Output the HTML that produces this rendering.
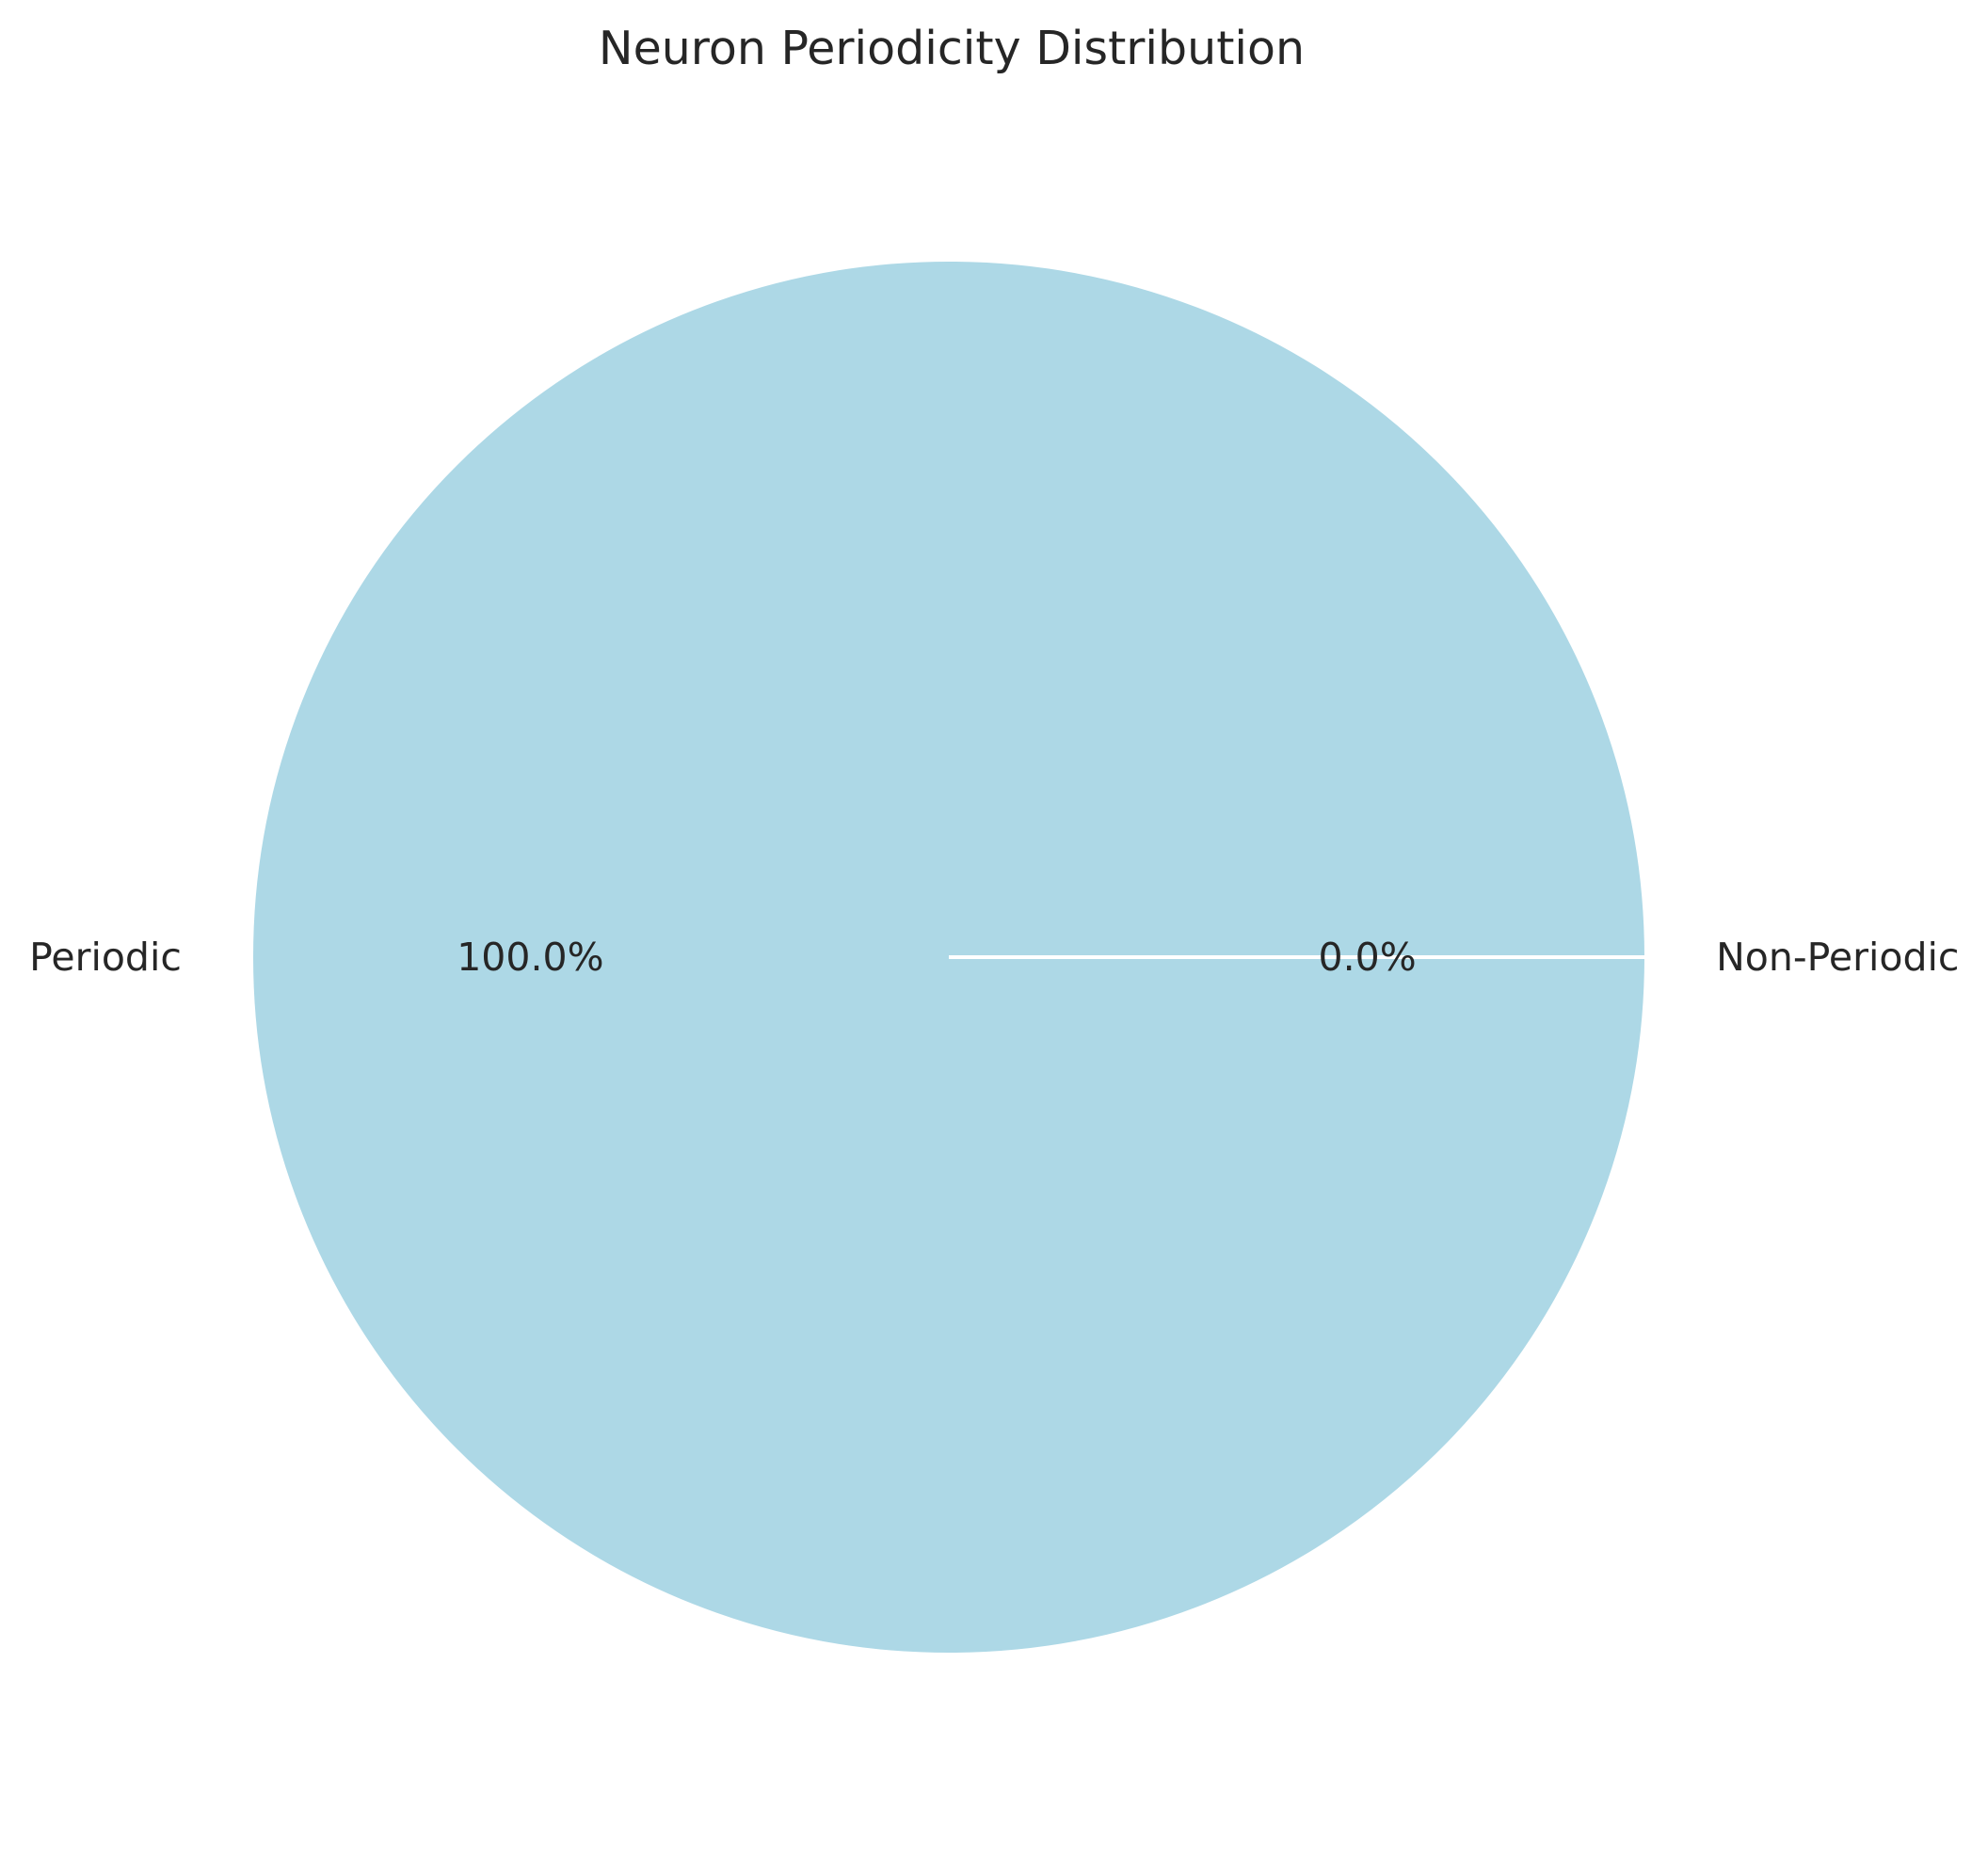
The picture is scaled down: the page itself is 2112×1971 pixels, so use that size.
<!DOCTYPE html>
<html><head><meta charset="utf-8"><style>html,body{margin:0;padding:0;background:#fff}svg{display:block}</style></head>
<body>
<svg id="chart" width="2112" height="1971" viewBox="0 0 2112 1971" font-family="DejaVu Sans, Liberation Sans, sans-serif">
<rect width="2112" height="1971" fill="#fff"/>
<text x="1011" y="68" font-size="49" text-anchor="middle" fill="#262626">Neuron Periodicity Distribution</text>
<g id="slices"></g>
<g id="labels"></g>
</svg>
<script>
const categories = ["Periodic", "Non-Periodic"];
const values = [100, 0];
const colors = ["#add8e6", "#f4a582"];
const cx = 1008, cy = 1017, r = 741;
const total = values.reduce((a, b) => a + b, 0);
const ns = "http://www.w3.org/2000/svg";
const gS = document.getElementById('slices'), gL = document.getElementById('labels');
function pt(a, rr) { return [cx + rr * Math.cos(a), cy - rr * Math.sin(a)]; }
let start = 0;
values.forEach((v, i) => {
  const frac = v / total, sweep = frac * 2 * Math.PI, end = start + sweep;
  let el;
  if (frac >= 0.9999) {
    el = document.createElementNS(ns, 'circle');
    el.setAttribute('cx', cx); el.setAttribute('cy', cy); el.setAttribute('r', r);
  } else {
    el = document.createElementNS(ns, 'path');
    const p0 = pt(start, r), p1 = pt(end, r);
    el.setAttribute('d', `M${cx},${cy} L${p0[0]},${p0[1]} A${r},${r} 0 ${sweep > Math.PI ? 1 : 0} 0 ${p1[0]},${p1[1]} Z`);
  }
  el.setAttribute('fill', colors[i]);
  el.setAttribute('stroke', '#fff'); el.setAttribute('stroke-width', '4');
  
  
  gS.appendChild(el);
  const mid = start + sweep / 2;
  const lp = pt(mid, r * 1.1);
  const t = document.createElementNS(ns, 'text');
  t.setAttribute('x', lp[0]); t.setAttribute('y', lp[1] + 14);
  t.setAttribute('font-size', '41'); t.setAttribute('fill', '#262626');
  t.setAttribute('text-anchor', Math.cos(mid) < -0.01 ? 'end' : 'start');
  t.textContent = categories[i];
  
  
  gL.appendChild(t);
  const pp = pt(mid, r * 0.6);
  const pc = document.createElementNS(ns, 'text');
  pc.setAttribute('x', pp[0]); pc.setAttribute('y', pp[1] + 14);
  pc.setAttribute('font-size', '41'); pc.setAttribute('fill', '#262626');
  pc.setAttribute('text-anchor', 'middle');
  pc.textContent = (frac * 100).toFixed(1) + '%';
  
  
  gL.appendChild(pc);
  start = end;
});
values.forEach((v, i) => {
  if (v === 0) {
    let a = 0; for (let k = 0; k < i; k++) a += values[k] / total * 2 * Math.PI;
    const p = pt(a, r);
    const ln = document.createElementNS(ns, 'line');
    ln.setAttribute('x1', cx); ln.setAttribute('y1', cy);
    ln.setAttribute('x2', p[0]); ln.setAttribute('y2', p[1]);
    ln.setAttribute('stroke', '#fff'); ln.setAttribute('stroke-width', '4');
    
    
    gS.appendChild(ln);
  }
});
</script>
</body></html>
